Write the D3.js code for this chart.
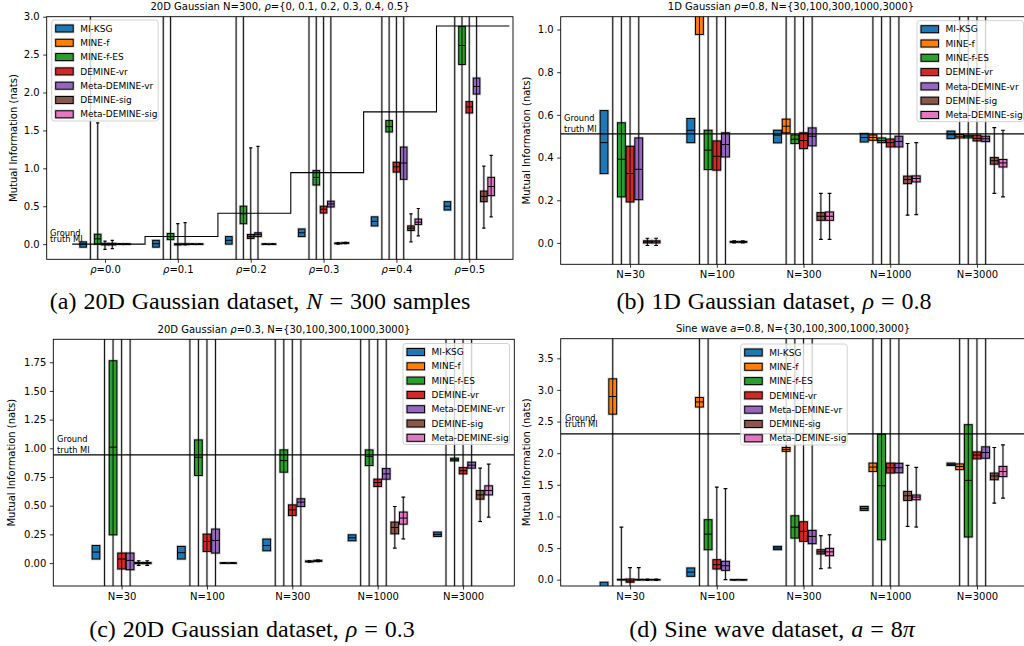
<!DOCTYPE html>
<html>
<head>
<meta charset="utf-8">
<title>MI estimators</title>
<script src="https://d3js.org/d3.v7.min.js"></script>
<style>
  body { margin: 0; background: #fff; }
  svg text { font-family: "DejaVu Sans", sans-serif; fill: #000; }
  .caption { font-family: "Liberation Serif", "Times New Roman", serif !important; }
</style>
</head>
<body>
<svg id="fig" width="1024" height="646"></svg>
<script>
// methods and colours (one box per method inside each group)
const methods = ["MI-KSG", "MINE-f", "MINE-f-ES", "DEMINE-vr", "Meta-DEMINE-vr", "DEMINE-sig", "Meta-DEMINE-sig"];
const methodColors = ["#1f77b4", "#ff7f0e", "#2ca02c", "#d62728", "#9467bd", "#8c564b", "#e377c2"];

// x tick labels
const rhoLabels = ["0.0", "0.1", "0.2", "0.3", "0.4", "0.5"];
const sampleLabels = ["N=30", "N=100", "N=300", "N=1000", "N=3000"];

// ground truth MI
const truthA = [0, 0.1005, 0.408, 0.943, 1.744, 2.877];
const truthB = 0.511;
const truthC = 0.943;
const truthD = 2.306;

// boxes: [whisker low, q1, median, q3, whisker high], one row per group
// null whisker = none drawn, +-10 = far outside the view
const boxesA = [
  [[null, -0.04, 0.0, 0.03, null], [null, -0.04, 0.005, 0.05, null], [null, 0.0, 0.05, 0.1, null], [null, 0.1, 0.15, 0.2, null], [null, 0.24, 0.3, 0.36, null], [null, 0.45, 0.5, 0.56, null]],
  [[-10, -3, -2, -1, 10], [-10, -3, -2, -1, 10], [-10, -3, -2, -1, 10], [-10, -3, -2, -1, 10], [-10, -3, -2, -1, 10], [-10, -3, -2, -1, 10]],
  [[-10, 0.0, 0.07, 0.13, 1.6], [-10, 0.06, 0.1, 0.14, 10], [-10, 0.27, 0.4, 0.5, 10], [-10, 0.78, 0.88, 0.97, 10], [-10, 1.48, 1.55, 1.63, 10], [-10, 2.37, 2.62, 2.87, 10]],
  [[-0.07, -0.01, 0.0, 0.01, 0.04], [-10, -0.01, -0.003, 0.005, 0.27], [-10, 0.075, 0.1, 0.127, 1.27], [-10, 0.41, 0.46, 0.5, 10], [-10, 0.95, 1.02, 1.08, 10], [-10, 1.73, 1.81, 1.88, 10]],
  [[-0.06, -0.01, 0.0, 0.01, 0.05], [-0.01, -0.005, 0.0, 0.005, 0.285], [-10, 0.1, 0.13, 0.15, 1.29], [-10, 0.49, 0.53, 0.566, 10], [-10, 0.855, 1.07, 1.28, 10], [-10, 1.98, 2.08, 2.19, 10]],
  [[-0.005, -0.003, 0, 0.003, 0.005], [-0.005, -0.003, 0, 0.003, 0.005], [-0.005, -0.003, 0, 0.003, 0.005], [0.0, 0.005, 0.01, 0.015, 0.02], [0.03, 0.18, 0.21, 0.24, 0.4], [0.21, 0.56, 0.63, 0.7, 1.03]],
  [[-0.005, -0.003, 0, 0.003, 0.005], [-0.005, -0.003, 0, 0.003, 0.005], [-0.005, -0.003, 0, 0.003, 0.005], [0.005, 0.01, 0.015, 0.02, 0.025], [0.11, 0.26, 0.29, 0.33, 0.47], [0.36, 0.64, 0.76, 0.88, 1.17]]
];

const boxesB = [
  [[null, 0.325, 0.47, 0.62, null], [null, 0.47, 0.528, 0.583, null], [null, 0.469, 0.505, 0.528, null], [null, 0.473, 0.494, 0.513, null], [null, 0.489, 0.507, 0.524, null]],
  [[-10, 1.5, 2, 3, 10], [-10, 0.977, 1.2, 1.5, 10], [-10, 0.516, 0.547, 0.58, 10], [-10, 0.481, 0.494, 0.506, 10], [-10, 0.492, 0.5, 0.508, 10]],
  [[-10, 0.216, 0.392, 0.563, 10], [-10, 0.344, 0.435, 0.528, 10], [-10, 0.466, 0.486, 0.506, 10], [-10, 0.47, 0.48, 0.492, 10], [-10, 0.492, 0.5, 0.505, 10]],
  [[-10, 0.192, 0.325, 0.453, 10], [-10, 0.341, 0.406, 0.478, 10], [-10, 0.442, 0.48, 0.516, 10], [-10, 0.45, 0.47, 0.487, 10], [-10, 0.478, 0.49, 0.505, 10]],
  [[-10, 0.203, 0.345, 0.492, 10], [-10, 0.403, 0.461, 0.516, 10], [-10, 0.455, 0.5, 0.539, 10], [-10, 0.45, 0.475, 0.5, 10], [-10, 0.475, 0.488, 0.5, 10]],
  [[-0.012, 0.0, 0.005, 0.01, 0.022], [0.0, 0.003, 0.005, 0.007, 0.01], [0.017, 0.106, 0.125, 0.142, 0.232], [0.13, 0.278, 0.297, 0.313, 0.466], [0.232, 0.369, 0.385, 0.4, 0.54]],
  [[-0.012, 0.0, 0.005, 0.01, 0.022], [0.0, 0.003, 0.005, 0.007, 0.01], [0.017, 0.106, 0.125, 0.145, 0.232], [0.133, 0.286, 0.302, 0.314, 0.47], [0.216, 0.356, 0.375, 0.391, 0.528]]
];

const boxesC = [
  [[null, 0.035, 0.096, 0.153, null], [null, 0.035, 0.09, 0.145, null], [null, 0.107, 0.153, 0.209, null], [null, 0.194, 0.22, 0.246, null], [null, 0.232, 0.25, 0.27, null]],
  [[-10, -3, -2, -1, 10], [-10, -3, -2, -1, 10], [-10, -3, -2, -1, 10], [-10, -3, -2, -1, 10], [-10, -3, -2, -1, 10]],
  [[-10, 0.246, 1.01, 1.763, 10], [-10, 0.763, 0.922, 1.073, 10], [-10, 0.792, 0.893, 0.986, 10], [-10, 0.85, 0.928, 0.986, 10], [-10, 0.89, 0.9, 0.914, 10]],
  [[-10, -0.052, 0.035, 0.087, 10], [-10, 0.101, 0.188, 0.252, 10], [-10, 0.414, 0.464, 0.507, 10], [-10, 0.667, 0.702, 0.731, 10], [-10, 0.777, 0.805, 0.832, 10]],
  [[-10, -0.058, 0.023, 0.087, 10], [-10, 0.087, 0.197, 0.296, 10], [-10, 0.493, 0.531, 0.56, 10], [-10, 0.731, 0.777, 0.823, 10], [-10, 0.827, 0.853, 0.879, 10]],
  [[-0.02, -0.005, 0.0, 0.005, 0.02], [-0.003, -0.002, 0, 0.002, 0.003], [0.008, 0.01, 0.014, 0.018, 0.02], [0.13, 0.255, 0.31, 0.357, 0.493], [0.362, 0.557, 0.594, 0.632, 0.827]],
  [[-0.02, -0.005, 0.0, 0.005, 0.02], [-0.003, -0.002, 0, 0.002, 0.003], [0.012, 0.015, 0.02, 0.024, 0.027], [0.21, 0.339, 0.392, 0.444, 0.574], [0.4, 0.594, 0.632, 0.673, 0.862]]
];

const boxesD = [
  [[null, -0.3, -0.15, -0.04, null], [null, 0.053, 0.12, 0.185, null], [null, 0.474, 0.5, 0.526, null], [null, 1.095, 1.125, 1.158, null], [null, 1.806, 1.825, 1.843, null]],
  [[-10, 2.617, 2.896, 3.175, 10], [-10, 2.73, 2.81, 2.88, 10], [-10, 2.03, 2.06, 2.09, 10], [-10, 1.711, 1.78, 1.843, 10], [-10, 1.74, 1.79, 1.83, 10]],
  [[-10, -0.005, 0, 0.005, 0.83], [-10, 0.474, 0.72, 0.948, 10], [-10, 0.658, 0.83, 1.01, 10], [-10, 0.632, 1.485, 2.3, 10], [-10, 0.675, 1.57, 2.45, 10]],
  [[-10, -0.04, -0.02, 0.01, 0.19], [-10, 0.169, 0.237, 0.316, 1.464], [-10, 0.606, 0.763, 0.916, 10], [-10, 1.686, 1.77, 1.843, 10], [-10, 1.91, 1.97, 2.02, 10]],
  [[-0.005, -0.005, 0, 0.005, 0.19], [0.0, 0.147, 0.22, 0.29, 1.438], [-10, 0.569, 0.684, 0.779, 10], [-10, 1.69, 1.77, 1.84, 10], [-10, 1.92, 2.01, 2.1, 10]],
  [[-0.01, -0.003, 0, 0.003, 0.01], [-0.003, -0.002, 0, 0.002, 0.003], [0.174, 0.406, 0.44, 0.474, 0.695], [0.842, 1.253, 1.327, 1.395, 1.806], [1.21, 1.58, 1.64, 1.685, 2.09]],
  [[-0.01, -0.003, 0, 0.003, 0.01], [-0.003, -0.002, 0, 0.002, 0.003], [0.185, 0.379, 0.44, 0.494, 0.71], [0.832, 1.264, 1.306, 1.338, 1.774], [1.29, 1.63, 1.71, 1.79, 2.13]]
];

const svg = d3.select("#fig");

// panel layout (pixels) + which data goes where
const panels = [
  {id: "a", left: 46.7, right: 513, top: 16.7, bottom: 259.3, xDomain: [-0.8, 5.6], yDomain: [-0.2, 3.0],
   yTicks: d3.range(0, 3.01, 0.5), yFmt: ".1f", labels: rhoLabels, rho: true, boxes: boxesA, truth: truthA,
   title: [["20D Gaussian N=300, ", 0], ["ρ", 1], ["={0, 0.1, 0.2, 0.3, 0.4, 0.5}", 0]], titleX: 280,
   legend: [51.7, 20], gt: [50, 235.5, 242], ylabX: 13.5,
   caption: [["(a) 20D Gaussian dataset, ", 0], ["N", 1], [" = 300 samples", 0]], capX: 260, capY: 309},
  {id: "b", left: 560.7, right: 1029, top: 16.7, bottom: 264.3, xDomain: [-0.8, 4.6], yDomain: [-0.1, 1.06],
   yTicks: d3.range(0, 1.01, 0.2), yFmt: ".1f", labels: sampleLabels, boxes: boxesB, truth: truthB,
   title: [["1D Gaussian ", 0], ["ρ", 1], ["=0.8, N={30,100,300,1000,3000}", 0]], titleX: 791,
   legend: [917, 20.7], gt: [564, 120.7, 131.5], ylabX: 526.5,
   caption: [["(b) 1D Gaussian dataset, ", 0], ["ρ", 1], [" = 0.8", 0]], capX: 774, capY: 309},
  {id: "c", left: 53.3, right: 514.3, top: 339.3, bottom: 586, xDomain: [-0.8, 4.6], yDomain: [-0.2, 1.95],
   yTicks: d3.range(0, 1.76, 0.25), yFmt: ".2f", labels: sampleLabels, boxes: boxesC, truth: truthC,
   title: [["20D Gaussian ", 0], ["ρ", 1], ["=0.3, N={30,100,300,1000,3000}", 0]], titleX: 284,
   legend: [403, 343.5], gt: [57, 442.3, 453.3], ylabX: 11.5,
   caption: [["(c) 20D Gaussian dataset, ", 0], ["ρ", 1], [" = 0.3", 0]], capX: 252, capY: 637},
  {id: "d", left: 560.7, right: 1029, top: 338.7, bottom: 586, xDomain: [-0.8, 4.6], yDomain: [-0.1, 3.81],
   yTicks: d3.range(0, 3.51, 0.5), yFmt: ".1f", labels: sampleLabels, boxes: boxesD, truth: truthD,
   title: [["Sine wave ", 0], ["a", 1], ["=0.8, N={30,100,300,1000,3000}", 0]], titleX: 793,
   legend: [740.7, 344], gt: [565, 421, 426.5], ylabX: 526.5,
   caption: [["(d) Sine wave dataset, ", 0], ["a", 1], [" = 8", 0], ["π", 1]], capX: 772, capY: 637}
];

function addSegments(sel, segs) {
  segs.forEach(([t, it]) => sel.append("tspan").attr("font-style", it ? "italic" : null).text(t));
}

const defs = svg.append("defs");

panels.forEach(p => {
  const x = d3.scaleLinear().domain(p.xDomain).range([p.left, p.right]);
  const y = d3.scaleLinear().domain(p.yDomain).range([p.bottom, p.top]);
  const g = svg.append("g");

  defs.append("clipPath").attr("id", "clip-" + p.id)
    .append("rect").attr("x", p.left).attr("y", p.top)
    .attr("width", p.right - p.left).attr("height", p.bottom - p.top);
  const plot = g.append("g").attr("clip-path", `url(#clip-${p.id})`);

  // flatten boxes
  const recs = [];
  p.boxes.forEach((rows, m) => rows.forEach((b, i) => {
    recs.push({m: m, i: i, lo: b[0], q1: b[1], med: b[2], q3: b[3], hi: b[4], cx: i + (m - 3) * 0.1});
  }));
  const halfW = (x(0.045) - x(0));
  const capW = (x(0.022) - x(0));
  const withW = recs.filter(d => d.lo !== null);

  // whisker halo
  plot.selectAll(".wh-halo").data(withW).join("line")
    .attr("x1", d => x(d.cx)).attr("x2", d => x(d.cx))
    .attr("y1", d => y(d.lo)).attr("y2", d => y(d.hi))
    .attr("stroke", "#888").attr("stroke-opacity", 0.45).attr("stroke-width", 2.4);

  // box halo + box
  plot.selectAll(".bx-halo").data(recs).join("rect")
    .attr("x", d => x(d.cx) - halfW).attr("width", 2 * halfW)
    .attr("y", d => y(d.q3)).attr("height", d => Math.max(0.5, y(d.q1) - y(d.q3)))
    .attr("fill", "none").attr("stroke", "#777").attr("stroke-opacity", 0.4).attr("stroke-width", 2.6);
  plot.selectAll(".bx").data(recs).join("rect")
    .attr("x", d => x(d.cx) - halfW).attr("width", 2 * halfW)
    .attr("y", d => y(d.q3)).attr("height", d => Math.max(0.5, y(d.q1) - y(d.q3)))
    .attr("fill", d => methodColors[d.m]).attr("stroke", "#000").attr("stroke-width", 1);
  plot.selectAll(".med").data(recs).join("line")
    .attr("x1", d => x(d.cx) - halfW).attr("x2", d => x(d.cx) + halfW)
    .attr("y1", d => y(d.med)).attr("y2", d => y(d.med))
    .attr("stroke", "#000").attr("stroke-width", 1);

  // whiskers + caps
  plot.selectAll(".wh").data(withW).join("line")
    .attr("x1", d => x(d.cx)).attr("x2", d => x(d.cx))
    .attr("y1", d => y(d.lo)).attr("y2", d => y(d.hi))
    .attr("stroke", "#000").attr("stroke-width", 0.9);
  ["lo", "hi"].forEach(k => {
    plot.selectAll(".cap-" + k).data(withW).join("line")
      .attr("x1", d => x(d.cx) - capW).attr("x2", d => x(d.cx) + capW)
      .attr("y1", d => y(d[k])).attr("y2", d => y(d[k]))
      .attr("stroke", "#000").attr("stroke-width", 1.2);
  });

  // ground truth line
  if (Array.isArray(p.truth)) {
    const pts = p.truth.map((v, i) => [i - 0.45, v]);
    pts.push([p.truth.length - 0.45, p.truth[p.truth.length - 1]]);
    plot.append("path").datum(pts)
      .attr("d", d3.line().x(d => x(d[0])).y(d => y(d[1])).curve(d3.curveStepAfter))
      .attr("fill", "none").attr("stroke", "#000").attr("stroke-width", 1.1);
  } else {
    plot.append("line").attr("x1", p.left).attr("x2", p.right)
      .attr("y1", y(p.truth)).attr("y2", y(p.truth))
      .attr("stroke", "#000").attr("stroke-width", 1.3);
  }
  g.append("text").attr("x", p.gt[0]).attr("y", p.gt[1]).attr("font-size", 8.3).text("Ground");
  g.append("text").attr("x", p.gt[0]).attr("y", p.gt[2]).attr("font-size", 8.3).text("truth MI");

  // frame
  g.append("rect").attr("x", p.left).attr("y", p.top)
    .attr("width", p.right - p.left).attr("height", p.bottom - p.top)
    .attr("fill", "none").attr("stroke", "#000").attr("stroke-width", 0.9);

  // axes
  const ya = g.append("g").attr("transform", `translate(${p.left},0)`)
    .call(d3.axisLeft(y).tickValues(p.yTicks).tickFormat(d3.format(p.yFmt)).tickSize(3.5).tickPadding(3.5));
  ya.select(".domain").remove();
  ya.selectAll("text").attr("font-size", 10).attr("font-family", "DejaVu Sans");
  ya.selectAll("line").attr("stroke-width", 0.8);

  const xa = g.append("g").attr("transform", `translate(0,${p.bottom})`)
    .call(d3.axisBottom(x).tickValues(d3.range(p.labels.length)).tickFormat(i => p.labels[i]).tickSize(3.5).tickPadding(3.5));
  xa.select(".domain").remove();
  xa.selectAll("line").attr("stroke-width", 0.8);
  xa.selectAll("text").attr("font-size", 10).attr("font-family", "DejaVu Sans").each(function (d) {
    if (!p.rho) return;
    const t = d3.select(this).text("");
    addSegments(t, [["ρ", 1], ["=" + p.labels[d], 0]]);
  });

  // y label
  g.append("text").attr("transform", `translate(${p.ylabX},${(p.top + p.bottom) / 2}) rotate(-90)`)
    .attr("text-anchor", "middle").attr("dy", "0.35em").attr("font-size", 10)
    .text("Mutual Information (nats)");

  // title
  addSegments(g.append("text").attr("x", p.titleX).attr("y", p.top - 6.5)
    .attr("text-anchor", "middle").attr("font-size", 10), p.title);

  // legend
  const lg = g.append("g").attr("transform", `translate(${p.legend[0]},${p.legend[1]})`);
  lg.append("rect").attr("width", 106.5).attr("height", 101).attr("rx", 2.5)
    .attr("fill", "#fff").attr("fill-opacity", 0.8).attr("stroke", "#ccc").attr("stroke-width", 0.9);
  methods.forEach((name, m) => {
    const cy = 8.5 + m * 14.3;
    lg.append("rect").attr("x", 4).attr("y", cy - 3.5).attr("width", 17.5).attr("height", 7)
      .attr("fill", "none").attr("stroke", "#777").attr("stroke-opacity", 0.4).attr("stroke-width", 2.6);
    lg.append("rect").attr("x", 4).attr("y", cy - 3.5).attr("width", 17.5).attr("height", 7)
      .attr("fill", methodColors[m]).attr("stroke", "#000").attr("stroke-width", 1);
    lg.append("text").attr("x", 28.5).attr("y", cy).attr("dy", "0.35em").attr("font-size", 9).text(name);
  });

  // caption
  addSegments(svg.append("text").attr("class", "caption").attr("x", p.capX).attr("y", p.capY)
    .attr("text-anchor", "middle").attr("font-size", 24).attr("word-spacing", 1), p.caption);
});
</script>
</body>
</html>
